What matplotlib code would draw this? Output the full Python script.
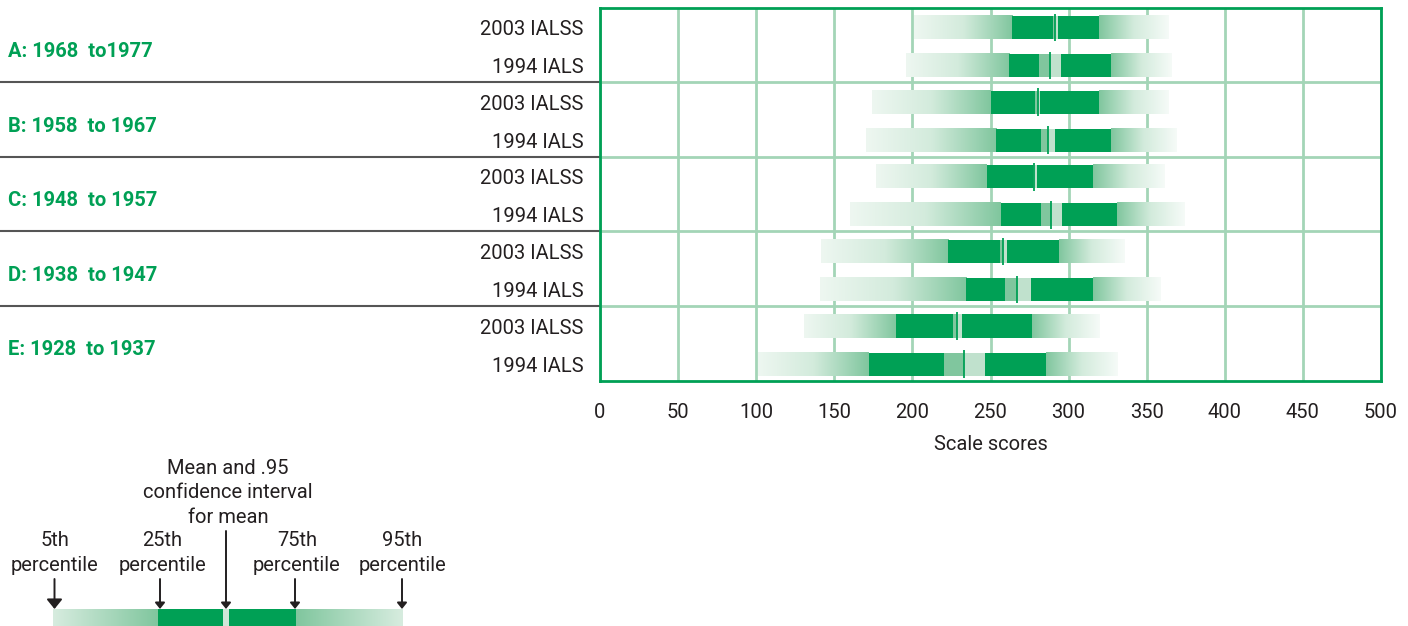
import numpy as np
import matplotlib
matplotlib.use("Agg")
import matplotlib.pyplot as plt
import matplotlib.transforms as mtransforms
from matplotlib.colors import LinearSegmentedColormap

plt.rcParams['font.family'] = ['Roboto', 'DejaVu Sans']

# cohorts (birth years) and the two surveys, one row each
cohorts = ["A: 1968  to1977", "B: 1958  to 1967", "C: 1948  to 1957",
           "D: 1938  to 1947", "E: 1928  to 1937"]
surveys = ["2003 IALSS", "1994 IALS"]

# rows in order A-2003, A-1994, B-2003, B-1994, ...
p5    = [201.0, 196.0, 174.0, 170.0, 177.0, 160.0, 141.5, 141.0, 130.5, 101.0]
p25   = [264.0, 262.0, 250.0, 253.5, 248.0, 256.5, 223.0, 234.5, 189.5, 172.0]
ci_lo = [290.0, 281.0, 278.5, 282.5, 277.0, 282.5, 256.0, 259.5, 226.0, 220.0]
means = [291.5, 288.0, 280.5, 287.0, 278.0, 288.5, 258.0, 267.0, 228.5, 233.0]
ci_hi = [293.5, 295.0, 282.0, 291.5, 279.5, 296.0, 260.5, 276.0, 232.0, 246.5]
p75   = [319.5, 327.0, 319.5, 327.0, 315.5, 331.0, 294.0, 315.5, 276.5, 285.5]
p95   = [364.0, 365.5, 364.0, 369.0, 361.0, 374.5, 336.0, 359.0, 320.0, 331.0]

xticks = list(range(0, 501, 50))

# legend key (in its own little scale)
key_p5, key_p25, key_lo, key_mean, key_hi, key_p75, key_p95 = 53, 158, 223, 226, 229, 296, 403
key_labels = ["5th\npercentile", "25th\npercentile",
              "Mean and .95\nconfidence interval\nfor mean",
              "75th\npercentile", "95th\npercentile"]

dark   = "#00a055"
medium = "#80c69e"
light  = "#c0e1cd"
grid_c = "#a3d5b7"
text_c = "#231f20"
fs     = 14.5

fadeIn  = LinearSegmentedColormap.from_list("fadeIn",  ["#eef7f1", "#d3ebdc", medium])
fadeOut = LinearSegmentedColormap.from_list("fadeOut", [medium, "#d3ebdc", "#f6fbf8"])
keyIn   = LinearSegmentedColormap.from_list("keyIn",   ["#d7ecdf", medium])
keyOut  = LinearSegmentedColormap.from_list("keyOut",  [medium, "#d7ecdf"])
ramp    = np.linspace(0, 1, 256)[None, :]

fig = plt.figure(figsize=(14.08, 6.26), dpi=100)
ax  = fig.add_axes([600/1408, (626-380.5)/626, 781/1408, 373/626])

rowOffsets = [0.27, 0.78]
yPos = [g + off for g in range(len(cohorts)) for off in rowOffsets]
h = 0.31

def draw_row(a, y, h, v5, v25, lo, mn, hi, v75, v95, cin, cout, midL, midR, meanLine=True):
    a.imshow(ramp, cmap=cin, extent=(v5, v25, y+h/2, y-h/2), aspect='auto', interpolation='bilinear', zorder=3)
    a.imshow(ramp, cmap=cout, extent=(v75, v95, y+h/2, y-h/2), aspect='auto', interpolation='bilinear', zorder=3)
    a.barh(y, lo-v25, left=v25, height=h, color=dark, zorder=3, linewidth=0)
    a.barh(y, mn-lo, left=lo, height=h, color=midL, zorder=3, linewidth=0)
    a.barh(y, hi-mn, left=mn, height=h, color=midR, zorder=3, linewidth=0)
    a.barh(y, v75-hi, left=hi, height=h, color=dark, zorder=3, linewidth=0)
    if meanLine:
        a.vlines(mn, y-h/2-0.03, y+h/2+0.03, color=dark, lw=1.3, zorder=4)

for i, y in enumerate(yPos):
    draw_row(ax, y, h, p5[i], p25[i], ci_lo[i], means[i], ci_hi[i], p75[i], p95[i],
             fadeIn, fadeOut, medium, light)

ax.set_xlim(0, 500)
ax.set_ylim(len(cohorts), 0)
ax.set_xticks(xticks)
ax.set_xticklabels([str(t) for t in xticks], fontsize=fs, color=text_c)
ax.set_yticks(yPos)
ax.set_yticklabels(surveys * len(cohorts), fontsize=fs, color=text_c)
ax.tick_params(axis='both', length=0)
ax.tick_params(axis='x', pad=16)
ax.tick_params(axis='y', pad=12)
ax.set_axisbelow(True)
ax.grid(axis='x', color=grid_c, lw=2)
for g in range(1, len(cohorts)):
    ax.axhline(g, color=grid_c, lw=2, zorder=0.5)
for sp in ax.spines.values():
    sp.set_color(dark)
    sp.set_linewidth(2)
ax.set_xlabel("Scale scores", fontsize=fs, color=text_c)
ax.xaxis.set_label_coords(0.5, -0.146)

# cohort labels and separators on the left
trans = mtransforms.blended_transform_factory(fig.transFigure, ax.transData)
for g, name in enumerate(cohorts):
    ax.text(8/1408, g + 0.59, name, transform=trans, ha='left', va='center',
            fontsize=fs, fontweight='bold', color=dark)
for g in range(1, len(cohorts)):
    ax.plot([0, 600/1408], [g, g], transform=trans, color="#555555", lw=1.5, clip_on=False)

# legend key
kx = fig.add_axes([0, 0, 460/1408, 176/626])
draw_row(kx, 171, 24, key_p5, key_p25, key_lo, key_mean, key_hi, key_p75, key_p95,
         keyIn, keyOut, "#cfe7d8", "#cfe7d8", meanLine=False)
kx.set_xlim(0, 460)
kx.set_ylim(176, 0)
kx.axis('off')

arrowX = [key_p5 + 1.5, key_p25 + 2, key_mean, key_p75 - 1, key_p95 - 1]
for j, x in enumerate(arrowX):
    start = 81 if j == 2 else 129
    hl, hw = (0.58, 0.47) if j == 0 else (0.36, 0.29)
    kx.annotate('', xy=(x, 159), xytext=(x, start),
                arrowprops=dict(arrowstyle=f'-|>,head_length={hl},head_width={hw}',
                                color=text_c, lw=1.4, shrinkA=0, shrinkB=0, mutation_scale=10))
textX = [55, 162, 228, 297, 402]
for j, (x, lab) in enumerate(zip(textX, key_labels)):
    y = 43 if j == 2 else 103
    kx.text(x, y, lab, ha='center', va='center', fontsize=fs, color=text_c, linespacing=1.37)

fig.savefig("out.png", dpi=100)
